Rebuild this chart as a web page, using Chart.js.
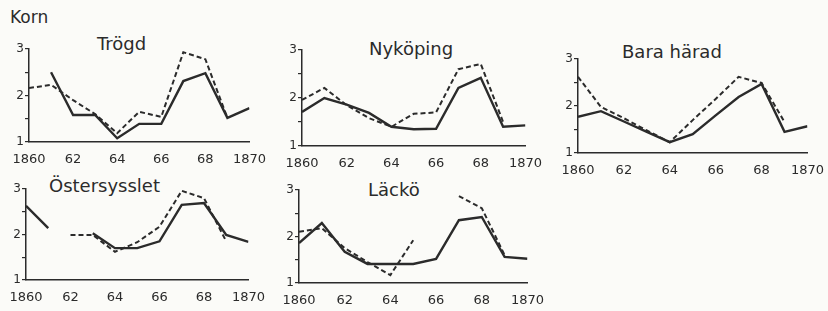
<!DOCTYPE html>
<html lang="sv">
<head>
    <meta charset="UTF-8">
    <title>Korn</title>
    <script src="https://cdn.jsdelivr.net/npm/chart.js"></script>
    <style>
        body {
            margin: 0;
            padding: 0;
            background: #fbfbf8;
            font-family: "DejaVu Sans", sans-serif;
            color: #2b2b2b;
        }

        #wrap {
            position: relative;
            width: 828px;
            height: 311px;
            overflow: hidden;
        }

        .panel {
            position: absolute;
        }

        .label {
            position: absolute;
            font-size: 18px;
            white-space: nowrap;
        }
    </style>
</head>
<body>
    <div id="wrap">
        <div class="label" style="left:10px; top:7px; font-size:17px;">Korn</div>
        <div class="label" style="left:97px; top:33px;">Trögd</div>
        <div class="label" style="left:369px; top:38px;">Nyköping</div>
        <div class="label" style="left:622px; top:41px;">Bara härad</div>
        <div class="label" style="left:49px; top:175px;">Östersysslet</div>
        <div class="label" style="left:368px; top:179px;">Läckö</div>

        <canvas class="panel" id="c1" width="259" height="125" style="left:9px; top:39px;"></canvas>
        <canvas class="panel" id="c2" width="262" height="128" style="left:282px; top:40px;"></canvas>
        <canvas class="panel" id="c3" width="268" height="126" style="left:558px; top:49px;"></canvas>
        <canvas class="panel" id="c4" width="261" height="123" style="left:6px; top:179px;"></canvas>
        <canvas class="panel" id="c5" width="267" height="125" style="left:279px; top:180px;"></canvas>
    </div>

    <script>
        // years on the x axis
        const years = [1860, 1861, 1862, 1863, 1864, 1865, 1866, 1867, 1868, 1869, 1870];

        // solid and dashed series per district (null = no data)
        const trogdSolid  = [null, 2.50, 1.58, 1.58, 1.08, 1.39, 1.39, 2.31, 2.48, 1.52, 1.73];
        const trogdDashed = [2.16, 2.23, 1.90, 1.60, 1.19, 1.65, 1.54, 2.93, 2.78, 1.52, null];

        const nykSolid  = [1.71, 2.00, 1.86, 1.69, 1.40, 1.35, 1.36, 2.21, 2.42, 1.40, 1.43];
        const nykDashed = [1.96, 2.21, 1.85, 1.58, 1.40, 1.67, 1.70, 2.60, 2.71, 1.50, null];

        const baraSolid  = [1.77, 1.89, 1.67, 1.45, 1.23, 1.40, 1.80, 2.19, 2.47, 1.45, 1.57];
        const baraDashed = [2.62, 1.98, 1.74, 1.48, 1.23, 1.70, 2.15, 2.62, 2.49, 1.66, null];

        const ostSolid  = [2.63, 2.14, null, 2.03, 1.70, 1.70, 1.85, 2.65, 2.69, 1.99, 1.84];
        const ostDashed = [null, null, 1.99, 1.99, 1.62, 1.83, 2.17, 2.96, 2.80, 1.85, null];

        const lackoSolid  = [1.86, 2.29, 1.67, 1.41, 1.41, 1.41, 1.52, 2.35, 2.42, 1.56, 1.52];
        const lackoDashed = [2.10, 2.18, 1.75, 1.45, 1.17, 1.92, null, 2.87, 2.61, 1.60, null];

        const yTickLabels = [1, 2, 3];
        const ink = '#2b2b2b';

        function toPoints(values) {
            return years.map((yr, i) => ({ x: yr, y: values[i] }));
        }

        function drawPanel(id, solid, dashed) {
            const ctx = document.getElementById(id).getContext('2d');
            return new Chart(ctx, {
                type: 'line',
                data: {
                    datasets: [
                        {
                            data: toPoints(solid),
                            borderColor: ink,
                            borderWidth: 2.4,
                            pointRadius: 0,
                            spanGaps: false,
                            tension: 0
                        },
                        {
                            data: toPoints(dashed),
                            borderColor: ink,
                            borderWidth: 2,
                            borderDash: [5, 3],
                            pointRadius: 0,
                            spanGaps: false,
                            tension: 0
                        }
                    ]
                },
                options: {
                    responsive: false,
                    animation: false,
                    layout: { padding: { top: 10, right: 14, left: 0, bottom: 0 } },
                    plugins: { legend: { display: false }, tooltip: { enabled: false } },
                    scales: {
                        x: {
                            type: 'linear',
                            min: 1860,
                            max: 1870,
                            afterFit: s => { s.height = 22; },
                            afterBuildTicks: s => {
                                s.ticks = years.filter(y => y % 2 === 0).map(v => ({ value: v }));
                            },
                            grid: { display: false },
                            border: { color: ink, width: 1.5 },
                            ticks: {
                                color: ink,
                                font: { family: 'DejaVu Sans', size: 13 },
                                padding: 2,
                                maxRotation: 0,
                                autoSkip: false,
                                callback: v => (v === 1860 || v === 1870) ? String(v) : String(v).slice(2)
                            }
                        },
                        y: {
                            min: 1,
                            max: 3,
                            afterFit: s => { s.width = 20; },
                            grid: {
                                drawOnChartArea: false,
                                tickLength: 4,
                                lineWidth: 1.2,
                                color: ink
                            },
                            border: { color: ink, width: 1.5 },
                            ticks: {
                                stepSize: 0.5,
                                color: ink,
                                font: { family: 'DejaVu Sans', size: 12 },
                                padding: 1,
                                callback: v => yTickLabels.includes(v) ? String(v) : ''
                            }
                        }
                    }
                }
            });
        }

        drawPanel('c1', trogdSolid, trogdDashed);
        drawPanel('c2', nykSolid, nykDashed);
        drawPanel('c3', baraSolid, baraDashed);
        drawPanel('c4', ostSolid, ostDashed);
        drawPanel('c5', lackoSolid, lackoDashed);
    </script>
</body>
</html>
